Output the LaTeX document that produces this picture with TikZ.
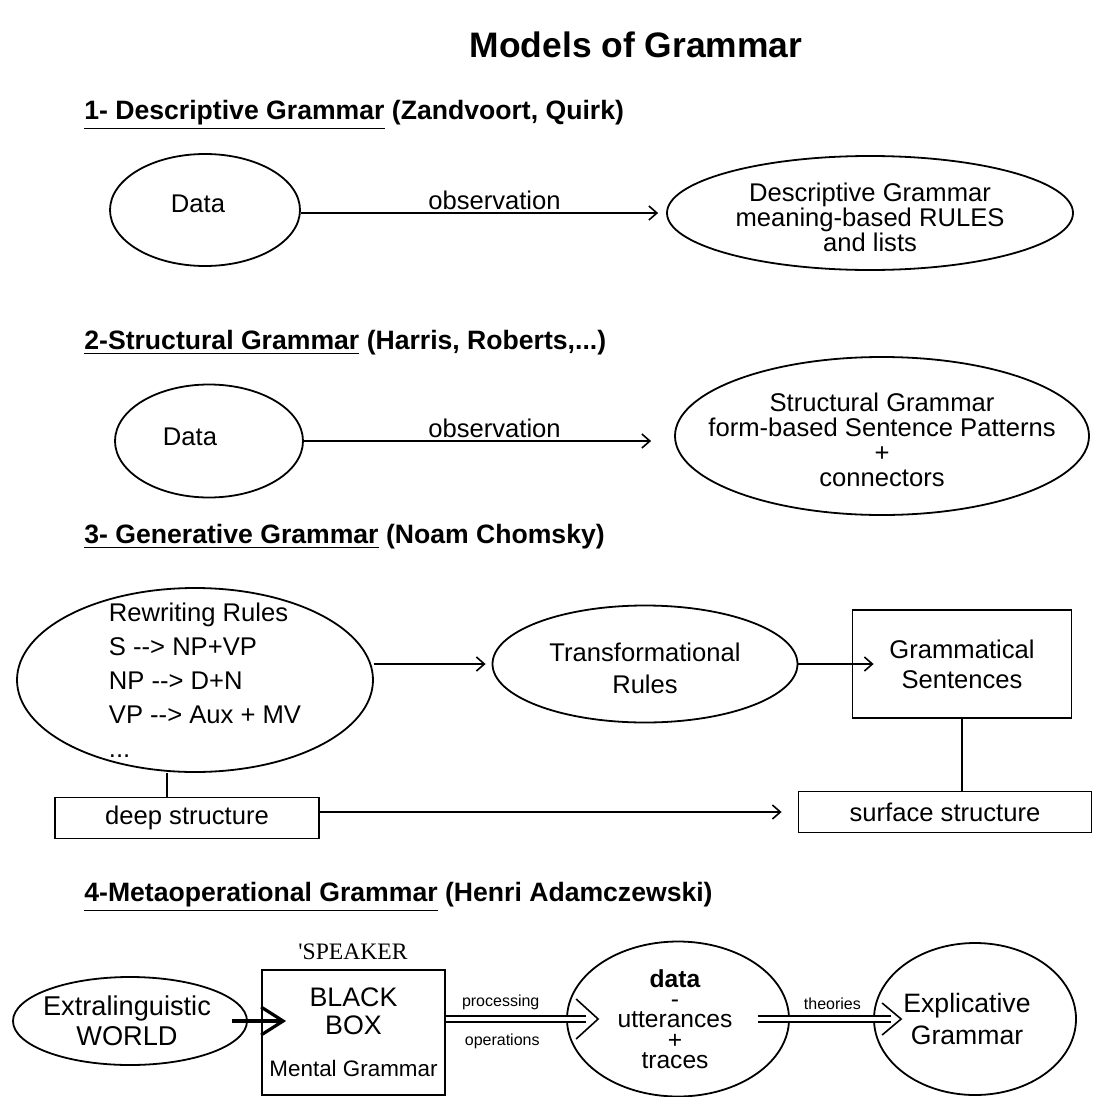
\documentclass[tikz,border=0pt]{standalone}
\usepackage{fontspec}
\setmainfont{Liberation Sans}
\newfontfamily\spkfont{Liberation Serif}
\usetikzlibrary{arrows.meta, positioning, shapes.geometric, calc}

\tikzset{
  font=\fontsize{12.8}{12.5}\selectfont,
  >={Straight Barb[length=4pt, width=7pt]},
  %
  ell/.style={draw, ellipse, line width=0.9pt, inner sep=0pt},
  box/.style={draw, rectangle, line width=0.9pt, inner sep=0pt, align=center},
  inner/.style={inner sep=0pt, align=center},
  %
  head/.style={anchor=west, inner sep=0pt, font=\bfseries\fontsize{13.3}{15}\selectfont},
  lbl/.style={inner sep=1pt},
  small/.style={inner sep=1pt, font=\fontsize{8}{9}\selectfont},
  %
  flow/.style={draw, line width=0.8pt, ->},
  bigflow/.style={draw, line width=1.6pt, -{Straight Barb[length=11pt, width=14pt]}},
  link/.style={draw, line width=0.8pt},
  dbl/.style={draw, double, double distance=2.4pt, line width=1pt},
  chev/.style={draw, line width=0.8pt},
}

\begin{document}
\begin{tikzpicture}[x=0.5pt, y=-0.5pt]
\useasboundingbox (0,0) rectangle (1097,1097);

\node[font=\bfseries\fontsize{17.7}{20}\selectfont] (title) at (636,45) {Models of Grammar};

% ------------------------------------------------------------ descriptive
\node[head] (h1) at (84,115) {\underline{1- Descriptive Grammar} (Zandvoort, Quirk)};

\node[ell, minimum width=95pt, minimum height=56pt,
      label={[inner, xshift=-3.5pt, yshift=3pt]center:Data}] (d1) at (205,210) {};
\node[ell, minimum width=203pt, minimum height=57pt,
      label={[inner, yshift=-2pt]center:{Descriptive Grammar\\meaning-based RULES\\and lists}}]
  (dg) at (870,213) {};
\draw[flow, shorten >=4pt] (d1.east |- dg) -- (dg)
  node[lbl, above, pos=.53] {observation};

% ------------------------------------------------------------- structural
\node[head] (h2) at (84,343) {\underline{2-Structural Grammar} (Harris, Roberts,...)};

\node[ell, minimum width=94pt, minimum height=56.5pt,
      label={[inner, xshift=-9.5pt, yshift=2pt]center:Data}] (d2) at (209,441) {};
\node[ell, minimum width=207pt, minimum height=79pt,
      label={[inner, yshift=-2pt]center:{Structural Grammar\\form-based Sentence Patterns\\+\\connectors}}]
  (sg) at (882,436) {};
\draw[flow, shorten >=11.5pt] (d2) -- (d2 -| sg.west)
  node[lbl, above, pos=.515] {observation};

% ------------------------------------------------------------- generative
\node[head] (h3) at (84,537) {\underline{3- Generative Grammar} (Noam Chomsky)};

\node[ell, minimum width=178pt, minimum height=92pt,
      label={[inner, align=left, xshift=5pt, font=\fontsize{12.8}{17}\selectfont]center:{%
        Rewriting Rules\\S -{}-> NP+VP\\NP -{}-> D+N\\VP -{}-> Aux + MV\\...}}]
  (rw) at (195,680) {};
\node[ell, minimum width=152.5pt, minimum height=58.5pt,
      label={[inner, yshift=-2pt, font=\fontsize{12.8}{16}\selectfont]center:{Transformational\\Rules}}]
  (tr) at (645,664) {};
\node[box, minimum width=109.5pt, minimum height=54pt,
      font=\fontsize{12.8}{15}\selectfont] (gs) at (962,664)
  {Grammatical\\Sentences};
\node[box, minimum width=132pt, minimum height=20.5pt] (ds) at (187,818) {deep structure};
\node[box, minimum width=146.5pt, minimum height=20.5pt] (ss) at (945,812) {surface structure};

\draw[flow, shorten >=3pt] (rw.east |- tr) -- (tr);
\draw[flow, shorten >=-11pt] (tr) -- (gs);
\draw[link] ([xshift=-10pt]ds.north) -- ([xshift=-10pt]ds.north |- rw.south);
\draw[link] (gs.south) -- (gs.south |- ss.north);
\draw[flow, shorten >=8pt] (ds.east |- ss) -- (ss);

% -------------------------------------------------------- metaoperational
\node[head] (h4) at (84,897) {\underline{4-Metaoperational Grammar} (Henri Adamczewski)};

\node[ell, minimum width=117pt, minimum height=44pt,
      label={[inner, xshift=-1.5pt, font=\fontsize{13.6}{15}\selectfont]center:{Extralinguistic\\WORLD}}]
  (ew) at (130,1021) {};
\node[box, minimum width=91.5pt, minimum height=62.5pt,
      font=\fontsize{13.4}{14}\selectfont] (bb) at (353.5,1032.5)
  {BLACK\\BOX\\[7pt]{\fontsize{11.2}{12}\selectfont Mental Grammar}};
\node[font=\spkfont\fontsize{11.8}{13}\selectfont, inner sep=0pt] (spk) at (353,952) {'SPEAKER};
\node[ell, minimum width=111pt, minimum height=77.5pt,
      label={[inner, xshift=-1.5pt, font=\fontsize{12.3}{10.2}\selectfont]center:{%
        \textbf{data}\\-\\utterances\\+\\traces}}]
  (dt) at (678,1019) {};
\node[ell, minimum width=101pt, minimum height=76pt,
      label={[inner, xshift=-4pt, font=\fontsize{13.3}{16}\selectfont]center:{Explicative\\Grammar}}]
  (ex) at (975,1019) {};

\coordinate (pTip) at ([xshift=16pt]dt.west);
\coordinate (tTip) at ([xshift=14pt]ex.west);

\draw[bigflow, shorten <=-8pt, shorten >=-12.5pt] (ew.east) -- (ew.east -| bb.west);

\draw[dbl, shorten >=6pt] (bb.east |- dt.west) -- (pTip)
  node[small, above=3pt, pos=.36] {processing}
  node[small, below=6pt, pos=.37] {operations};
\draw[chev] (pTip) ++(-11pt,10pt) -- (pTip) -- ++(-11pt,-10pt);

\draw[dbl, shorten >=5pt] ([xshift=-16pt]dt.east) -- (tTip)
  node[small, above=3pt, pos=.52] {theories};
\draw[chev] (tTip) ++(-9.5pt,8pt) -- (tTip) -- ++(-9.5pt,-8pt);

\end{tikzpicture}
\end{document}
